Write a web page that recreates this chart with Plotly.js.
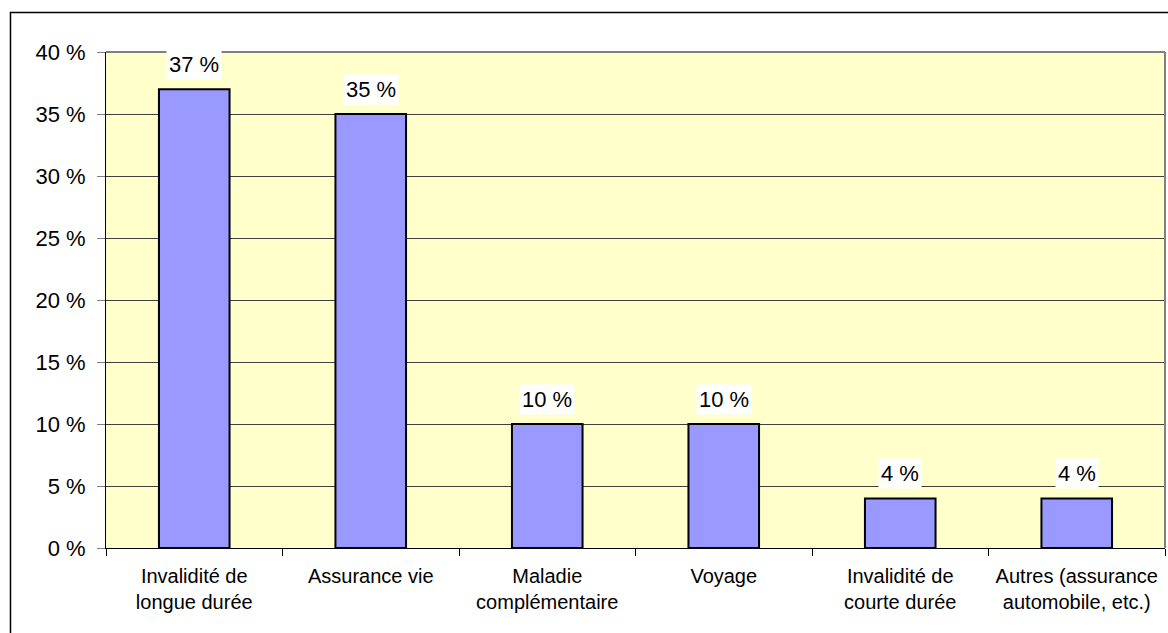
<!DOCTYPE html>
<html>
<head>
<meta charset="utf-8">
<script src="https://cdn.plot.ly/plotly-3.0.1.min.js"></script>
<style>html,body{margin:0;padding:0;background:#fff;}#chart{width:1168px;height:633px;}</style>
</head>
<body>
<div id="chart"></div>
<script>
const categories = ["Invalidité de<br>longue durée", "Assurance vie", "Maladie<br>complémentaire", "Voyage", "Invalidité de<br>courte durée", "Autres (assurance<br>automobile, etc.)"];
const values = [37, 35, 10, 10, 4, 4];
const labels = ["37 %", "35 %", "10 %", "10 %", "4 %", "4 %"];
const yTickVals = [0, 5, 10, 15, 20, 25, 30, 35, 40];
const yTickText = ["0 %", "5 %", "10 %", "15 %", "20 %", "25 %", "30 %", "35 %", "40 %"];

const FONT = '"Liberation Sans", Arial, sans-serif';

const trace = {
  type: 'bar',
  x: categories,
  y: values,
  marker: {color: '#9999FF', line: {color: '#000000', width: 2}},
  hoverinfo: 'skip'
};

const annotations = categories.map((c, i) => ({
  x: c, y: values[i], xref: 'x', yref: 'y',
  text: labels[i], showarrow: false,
  yanchor: 'bottom', yshift: 9,
  bgcolor: '#ffffff', borderpad: 2,
  font: {family: FONT, size: 22, color: '#000'}
}));

const layout = {
  width: 1168, height: 633,
  margin: {l: 106, r: 3, t: 52, b: 85, pad: 0},
  paper_bgcolor: '#ffffff',
  plot_bgcolor: '#FFFFCC',
  bargap: 0.6,
  showlegend: false,
  font: {family: FONT, size: 20, color: '#000'},
  xaxis: {
    type: 'category',
    tickson: 'boundaries',
    ticks: 'outside', ticklen: 7, tickcolor: '#000', tickwidth: 1,
    showline: true, linecolor: '#000', linewidth: 1,
    showgrid: false, zeroline: false,
    tickfont: {family: FONT, size: 20, color: '#000'},
    ticklabelstandoff: 10
  },
  yaxis: {
    range: [0, 40],
    tickmode: 'array',
    tickvals: yTickVals,
    ticktext: yTickText,
    ticks: 'outside', ticklen: 8, tickcolor: '#808080', tickwidth: 1,
    showline: true, linecolor: '#000', linewidth: 1,
    showgrid: true, gridcolor: '#404040', gridwidth: 1,
    zeroline: false,
    tickfont: {family: FONT, size: 22, color: '#000'},
    ticklabelstandoff: 7
  },
  shapes: [
    {type: 'line', xref: 'paper', yref: 'paper', x0: 0, x1: 1, y0: 1, y1: 1, line: {color: '#808080', width: 2}},
    {type: 'line', xref: 'paper', yref: 'paper', x0: 1, x1: 1, y0: 0, y1: 1, line: {color: '#808080', width: 2}},
    {type: 'rect', xref: 'paper', yref: 'paper', x0: -0.0902, x1: 1.2, y0: -0.3, y1: 1.0796, line: {color: '#000', width: 1.5}, fillcolor: 'rgba(0,0,0,0)'}
  ],
  annotations: annotations
};

Plotly.newPlot('chart', [trace], layout, {displayModeBar: false, staticPlot: true});
</script>
</body>
</html>
